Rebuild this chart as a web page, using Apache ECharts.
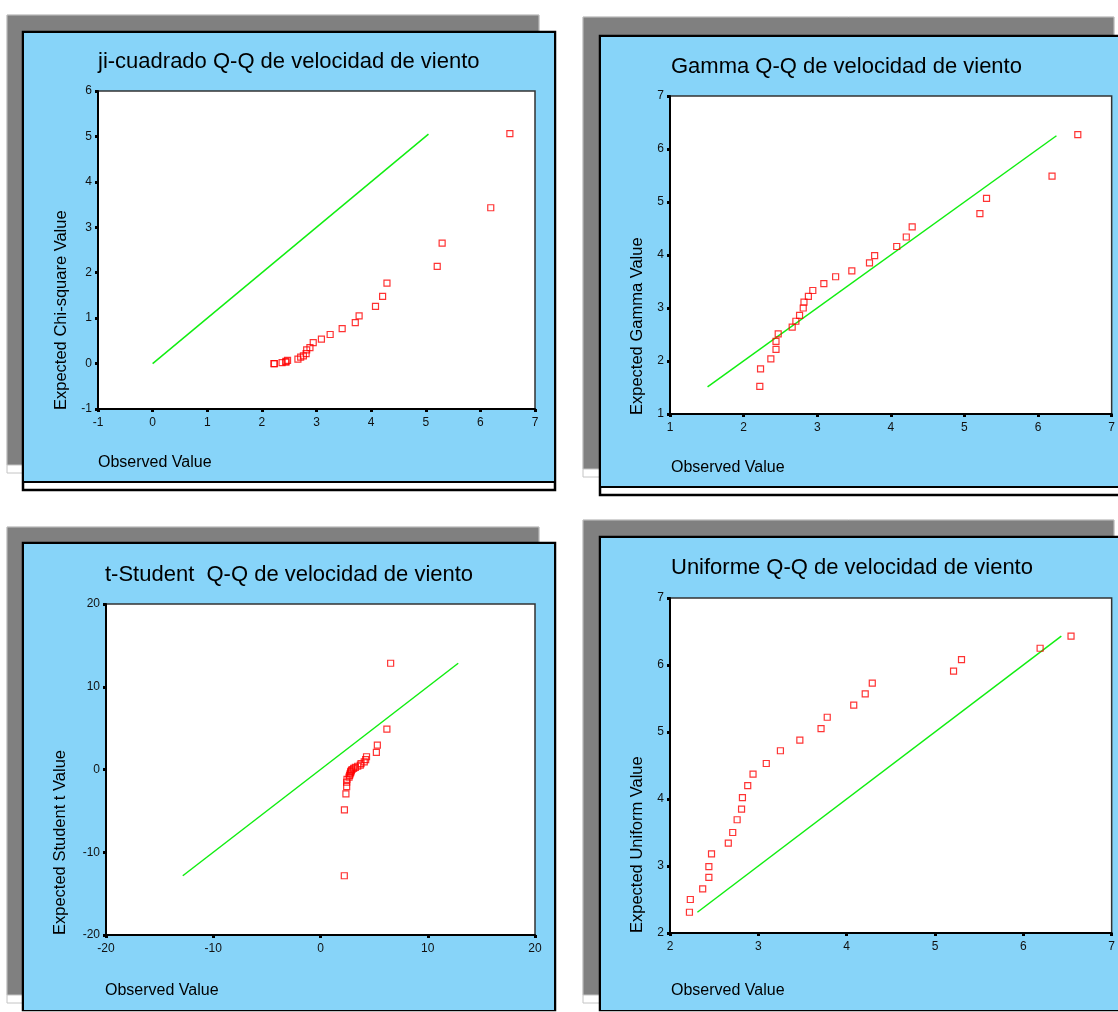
<!DOCTYPE html>
<html>
<head>
  <meta charset="UTF-8">
  <title>Q-Q velocidad de viento</title>
  <script src="https://cdn.jsdelivr.net/npm/echarts@6/dist/echarts.min.js"></script>
  <style>
    html, body { margin: 0; padding: 0; background: #fff; }
    #main { width: 1118px; height: 1012px; }
  </style>
</head>
<body>
<div id="main"></div>
<script type="text/javascript">
  // valores observados (velocidad de viento, ordenados)
  var observed = [2.22, 2.23, 2.37, 2.44, 2.44, 2.47, 2.66, 2.71, 2.76, 2.81, 2.82, 2.88, 2.94,
                  3.09, 3.25, 3.47, 3.71, 3.78, 4.08, 4.21, 4.29, 5.21, 5.30, 6.19, 6.54];

  // valores esperados de cada distribucion
  var chiExpected = [0.00, 0.00, 0.02, 0.03, 0.05, 0.07, 0.10, 0.14, 0.17, 0.22, 0.30, 0.35, 0.46,
                     0.54, 0.64, 0.77, 0.90, 1.05, 1.26, 1.48, 1.77, 2.14, 2.65, 3.43, 5.06];
  var gammaExpected = [1.52, 1.85, 2.04, 2.22, 2.37, 2.51, 2.64, 2.75, 2.86, 3.00, 3.11, 3.22, 3.33,
                       3.46, 3.59, 3.70, 3.85, 3.99, 4.16, 4.34, 4.53, 4.78, 5.07, 5.49, 6.27];
  var tExpected = [-12.84, -4.88, -2.95, -2.07, -1.54, -1.19, -0.92, -0.72, -0.54, -0.39, -0.25, -0.13, 0.00,
                   0.13, 0.25, 0.39, 0.54, 0.72, 0.92, 1.19, 1.54, 2.07, 2.95, 4.88, 12.84];
  var uniformExpected = [2.31, 2.50, 2.66, 2.83, 2.99, 3.18, 3.34, 3.50, 3.69, 3.85, 4.02, 4.20, 4.37,
                         4.53, 4.72, 4.88, 5.05, 5.22, 5.40, 5.57, 5.73, 5.91, 6.08, 6.25, 6.43];

  // extremos de la recta de referencia (y = x)
  var chiLine = [0, 5.05];
  var gammaLine = [1.51, 6.25];
  var tLine = [-12.84, 12.84];
  var uniformLine = [2.31, 6.43];

  // ejes: [min, max, intervalo]
  var chiAxis = [-1, 7, 1], chiYAxis = [-1, 6, 1];
  var gammaAxis = [1, 7, 1], gammaYAxis = [1, 7, 1];
  var tAxis = [-20, 20, 10], tYAxis = [-20, 20, 10];
  var uniformAxis = [2, 7, 1], uniformYAxis = [2, 7, 1];

  var titles = ['ji-cuadrado Q-Q de velocidad de viento', 'Gamma Q-Q de velocidad de viento',
                't-Student  Q-Q de velocidad de viento', 'Uniforme Q-Q de velocidad de viento'];
  var yNames = ['Expected Chi-square Value', 'Expected Gamma Value',
                'Expected Student t Value', 'Expected Uniform Value'];
  var xName = 'Observed Value';

  var FONT = '"Liberation Sans", Arial, sans-serif';
  var BLUE = '#87d4f9';

  function pairs(xs, ys) {
    var out = [];
    for (var i = 0; i < xs.length; i++) out.push([xs[i], ys[i]]);
    return out;
  }

  var grids = [
    {left: 98, top: 91, width: 437, height: 318},
    {left: 670, top: 96, width: 442, height: 318},
    {left: 106, top: 604, width: 429, height: 331},
    {left: 670, top: 598, width: 442, height: 335}
  ];
  var xRanges = [chiAxis, gammaAxis, tAxis, uniformAxis];
  var yRanges = [chiYAxis, gammaYAxis, tYAxis, uniformYAxis];
  var expected = [chiExpected, gammaExpected, tExpected, uniformExpected];
  var lines = [chiLine, gammaLine, tLine, uniformLine];

  function axis(i, r, isX) {
    return {
      type: 'value', gridIndex: i, min: r[0], max: r[1], interval: r[2],
      axisLine: {onZero: false, lineStyle: {color: '#000', width: 2}},
      axisTick: {length: 3, lineStyle: {color: '#000', width: 3}},
      axisLabel: {fontSize: 12, color: '#111', margin: isX ? 8 : 6, fontFamily: FONT},
      splitLine: {show: false}
    };
  }

  // fondos de los paneles: sombra gris, panel azul, franja blanca
  var panels = [
    {sx: 7, sy: 15, sw: 532, sh: 450, bx: 23, by: 32, bw: 532, bh: 450, fh: 458},
    {sx: 583, sy: 17, sw: 531, sh: 452, bx: 600, by: 36, bw: 530, bh: 451, fh: 459},
    {sx: 7, sy: 527, sw: 532, sh: 468, bx: 23, by: 543, bw: 532, bh: 467, fh: 467},
    {sx: 583, sy: 520, sw: 531, sh: 475, bx: 600, by: 537, bw: 530, bh: 473, fh: 473}
  ];
  var titlePos = [[98, 62], [671, 67], [105, 575], [671, 568]];
  var xNamePos = [[98, 463], [671, 468], [105, 991], [671, 991]];
  var yNamePos = [[61, 410], [637, 415], [60, 935], [637, 933]];

  var graphic = [];
  panels.forEach(function (p) {
    graphic.push({type: 'rect', z: -10, shape: {x: p.sx, y: p.sy, width: p.sw, height: p.sh + 8},
      style: {fill: '#fff', stroke: '#c4c4c4', lineWidth: 1}});
    graphic.push({type: 'rect', z: -10, shape: {x: p.sx, y: p.sy, width: p.sw, height: p.sh},
      style: {fill: '#808080', stroke: '#c4c4c4', lineWidth: 1}});
    graphic.push({type: 'rect', z: -9, shape: {x: p.bx, y: p.by, width: p.bw, height: p.fh},
      style: {fill: '#fff', stroke: '#000', lineWidth: 2.5}});
    graphic.push({type: 'rect', z: -8, shape: {x: p.bx + 1, y: p.by + 1, width: p.bw - 2, height: p.bh - 1},
      style: {fill: BLUE}});
    if (p.fh > p.bh) {
      graphic.push({type: 'line', z: -8, shape: {x1: p.bx, y1: p.by + p.bh, x2: p.bx + p.bw, y2: p.by + p.bh},
        style: {stroke: '#000', lineWidth: 2}});
    }
  });
  titles.forEach(function (t, i) {
    graphic.push({type: 'text', z: 5, x: titlePos[i][0], y: titlePos[i][1],
      style: {text: t, fill: '#000', font: '22px ' + FONT, textAlign: 'left', textVerticalAlign: 'middle'}});
    graphic.push({type: 'text', z: 5, x: xNamePos[i][0], y: xNamePos[i][1],
      style: {text: xName, fill: '#000', font: '16px ' + FONT, textAlign: 'left', textVerticalAlign: 'middle'}});
    graphic.push({type: 'text', z: 5, x: yNamePos[i][0], y: yNamePos[i][1], rotation: Math.PI / 2,
      style: {text: yNames[i], fill: '#000', font: '16.5px ' + FONT, textAlign: 'left', textVerticalAlign: 'middle'}});
  });

  var series = [];
  for (var i = 0; i < 4; i++) {
    series.push({
      type: 'line', xAxisIndex: i, yAxisIndex: i, z: 2,
      data: [[lines[i][0], lines[i][0]], [lines[i][1], lines[i][1]]],
      showSymbol: false, lineStyle: {color: '#11ee11', width: 1.5}
    });
    series.push({
      type: 'scatter', xAxisIndex: i, yAxisIndex: i, z: 3,
      symbol: 'rect', symbolSize: 6,
      itemStyle: {color: 'rgba(255,255,255,0)', borderColor: '#ff0000', borderWidth: 1.2},
      data: pairs(observed, expected[i])
    });
  }

  var myChart = echarts.init(document.getElementById('main'));
  var option = {
    animation: false,
    backgroundColor: '#fff',
    graphic: graphic,
    grid: grids.map(function (g) {
      return {left: g.left, top: g.top, width: g.width, height: g.height, show: true,
        backgroundColor: '#fff', borderColor: '#333', borderWidth: 1.5};
    }),
    xAxis: xRanges.map(function (r, i) { return axis(i, r, true); }),
    yAxis: yRanges.map(function (r, i) { return axis(i, r, false); }),
    series: series
  };
  myChart.setOption(option);
</script>
</body>
</html>
